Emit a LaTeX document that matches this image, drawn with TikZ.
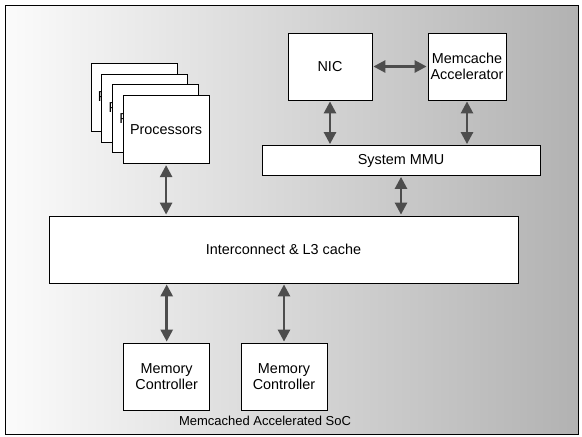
\documentclass[tikz,border=0pt]{standalone}
\usepackage{fontspec}
\setmainfont{Liberation Sans}
\usetikzlibrary{arrows.meta}
\definecolor{arrowgray}{HTML}{4D4D4D}
\definecolor{socleft}{HTML}{FBFBFB}
\definecolor{socright}{HTML}{B2B2B2}
\tikzset{
  block/.style={draw=black, line width=0.8pt, fill=white, inner sep=0pt,
    align=center, font=\fontsize{14.4}{16}\selectfont},
  link/.style={draw=arrowgray, line width=2.6pt,
    {Triangle[width=12pt,length=12pt]}-{Triangle[width=12pt,length=12pt]},
    shorten <=1pt, shorten >=1pt},
}
\begin{document}
\begin{tikzpicture}[x=1pt,y=-1pt]
  % page and SoC frame
  \useasboundingbox (0,0) rectangle (582,437);
  \fill[white] (0,0) rectangle (582,437);
  \shade[left color=socleft, right color=socright, draw=black, line width=0.9pt]
    (5,5) rectangle (578,434);

  % stacked processor cards, back to front
  \foreach \i in {0,1,2,3} {
    \node[block, minimum width=86pt, minimum height=68pt]
      (card\i) at ({134+\i*10.7},{97+\i*10.9}) {Processors};
  }

  % network side
  \node[block, minimum width=84pt, minimum height=67pt] (nic) at (330,66.5) {NIC};
  \node[block, minimum width=78pt, minimum height=67pt] (acc) at (467,66.5)
    {Memcache\\Accelerator};
  \node[block, minimum width=278pt, minimum height=30pt] (mmu) at (401,160.5) {System MMU};

  % shared interconnect
  \node[block, minimum width=469pt, minimum height=67pt] (ic) at (283.5,249.5)
    {Interconnect \& L3 cache};

  % memory controllers
  \node[block, minimum width=86pt, minimum height=67pt] (mc1) at (166.7,376.5)
    {Memory\\Controller};
  \node[block, minimum width=86pt, minimum height=67pt] (mc2) at (284,376.5)
    {Memory\\Controller};

  \node[font=\fontsize{13}{15}\selectfont] (soc) at (265,421) {Memcached Accelerated SoC};

  % links
  \draw[link] (nic.east) -- (acc.west |- nic.east);
  \draw[link] (nic.south) -- (nic.south |- mmu.north);
  \draw[link] (acc.south) -- (acc.south |- mmu.north);
  \draw[link] (mmu.south) -- (mmu.south |- ic.north);
  \draw[link] (card3.south) -- (card3.south |- ic.north);
  \draw[link] (mc1.north |- ic.south) -- (mc1.north);
  \draw[link] (mc2.north |- ic.south) -- (mc2.north);
\end{tikzpicture}
\end{document}
